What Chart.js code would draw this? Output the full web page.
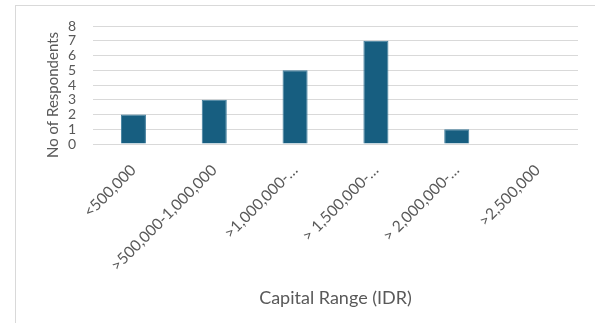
<!DOCTYPE html>
<html>
<head>
<meta charset="utf-8">
<script src="https://cdn.jsdelivr.net/npm/chart.js@4"></script>
<style>
  html, body { margin: 0; padding: 0; background: #fff; }
  #box { position: absolute; left: 15px; top: 5px; width: 600px; height: 330px; border: 1px solid #d9d9d9; }
  #wrap { position: absolute; left: 0; top: 0; width: 595px; height: 323px; }
</style>
</head>
<body>
<div id="box"></div>
<div id="wrap"><canvas id="Chart"></canvas></div>
<script>
// categories and counts
const ranges = ["<500,000", ">500,000-1,000,000", ">1,000,000-\u2026", "> 1,500,000-\u2026", "> 2,000,000-\u2026", ">2,500,000"];
const respondents = [2, 3, 5, 7, 1, 0];
const yTicks = [0, 1, 2, 3, 4, 5, 6, 7, 8];

const grey = '#595959';
const font = "Lato, 'Open Sans', sans-serif";

// y axis title, drawn a little lower than chart.js would centre it
const yTitle = {
  id: 'yTitle',
  afterDraw(chart) {
    const c = chart.ctx;
    const area = chart.chartArea;
    c.save();
    c.translate(53, (area.top + area.bottom) / 2 + 10);
    c.rotate(-Math.PI / 2);
    c.fillStyle = grey;
    c.font = "15px " + font;
    c.textAlign = 'center';
    c.textBaseline = 'middle';
    c.fillText('No of Respondents', 0, 0);
    c.restore();
  }
};

const data = {
  labels: ranges,
  datasets: [{
    label: 'No of Respondents',
    data: respondents,
    backgroundColor: '#175e80',
    borderColor: '#3f7d9c',
    borderWidth: 1,
    barPercentage: 0.31,
    categoryPercentage: 1
  }]
};

const config = {
  type: 'bar',
  data: data,
  plugins: [yTitle],
  options: {
    responsive: true,
    maintainAspectRatio: false,
    animation: false,
    layout: { padding: { left: 44, right: 17, top: 26, bottom: 10 } },
    plugins: {
      legend: { display: false },
      tooltip: { enabled: false }
    },
    scales: {
      x: {
        afterFit: (axis) => { axis.height = 169; },
        grid: { display: false },
        border: { display: false },
        ticks: { color: grey, font: { family: font, size: 15.5 }, minRotation: 45, maxRotation: 45, padding: 9, autoSkip: false },
        title: { display: true, text: 'Capital Range (IDR)', color: grey, font: { family: font, size: 18 }, padding: { top: 0 } }
      },
      y: {
        afterFit: (axis) => { axis.width = 49; },
        min: 0,
        max: 8,
        afterBuildTicks: (axis) => { axis.ticks = yTicks.map(v => ({ value: v })); },
        grid: { color: '#d9d9d9', lineWidth: 1, drawTicks: false },
        border: { display: false },
        ticks: { color: grey, font: { family: font, size: 14, lineHeight: 1 }, padding: 17, autoSkip: false }
      }
    }
  }
};

window.addEventListener('load', () => {
  const ctx = document.getElementById('Chart');
  new Chart(ctx, config);
});
</script>
</body>
</html>
